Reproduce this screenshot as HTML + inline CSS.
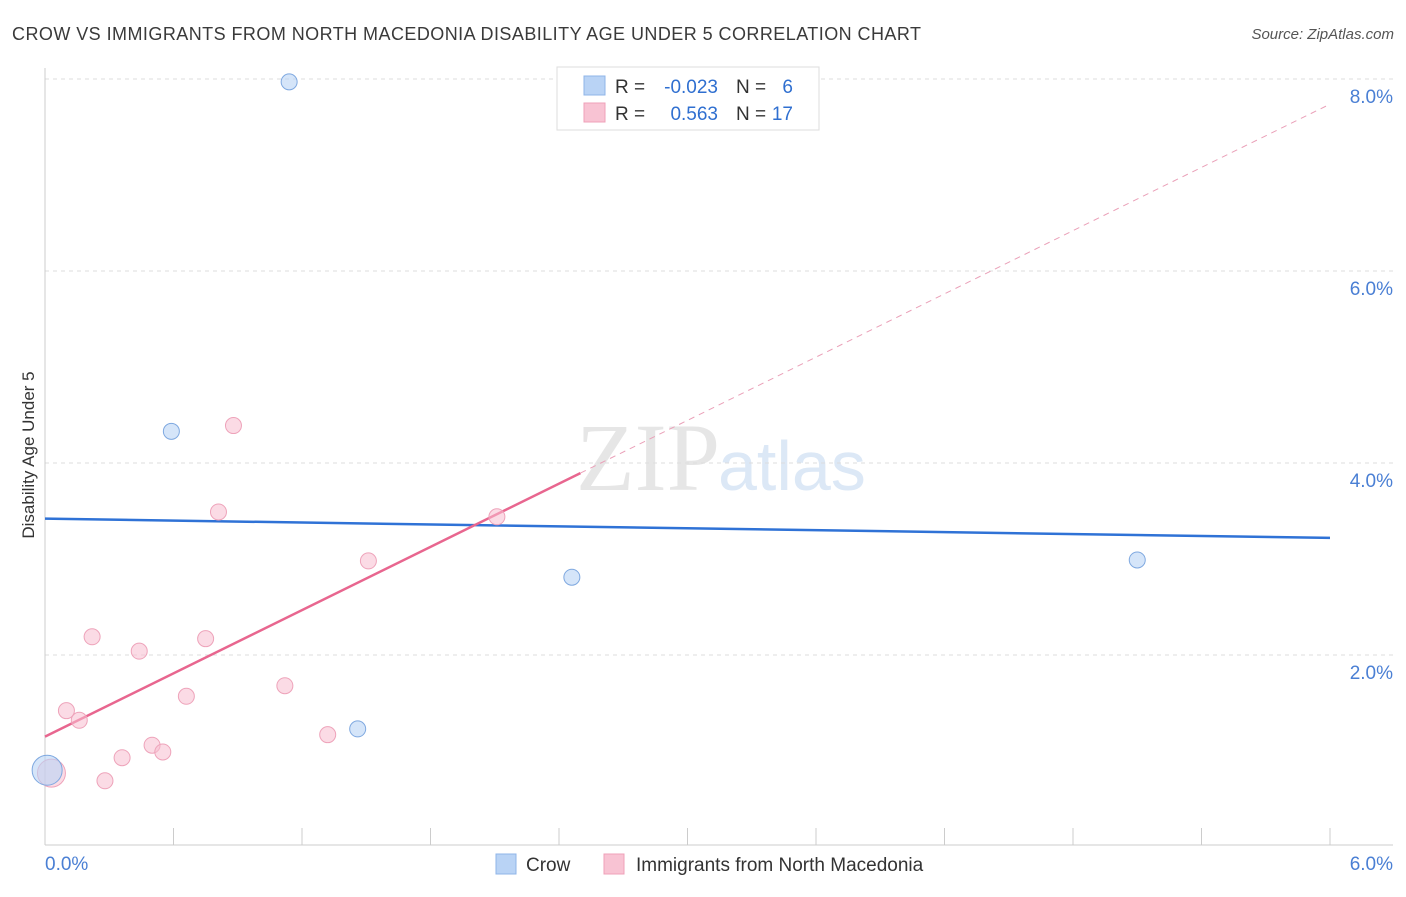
<!DOCTYPE html>
<html><head><meta charset="utf-8"><style>
body{margin:0;background:#fff;font-family:"Liberation Sans",sans-serif;}
</style></head><body>
<svg width="1406" height="892" id="chart">
<text x="12" y="40" font-size="18" fill="#3a3a3a" textLength="909">CROW VS IMMIGRANTS FROM NORTH MACEDONIA DISABILITY AGE UNDER 5 CORRELATION CHART</text>
<text x="1394" y="39" font-size="15" fill="#555" font-style="italic" text-anchor="end">Source: ZipAtlas.com</text>
<text x="0" y="0" transform="translate(34,455) rotate(-90)" font-size="17" fill="#333" text-anchor="middle">Disability Age Under 5</text>
<text x="720" y="490" font-size="96" fill="#e6e6e6" font-family="Liberation Serif" text-anchor="end">ZIP</text>
<text x="718" y="490" font-size="70" fill="#dce8f6">atlas</text>
<g id="grid"></g><g id="lines"></g><g id="pts"></g>
<g>
<rect x="557" y="67" width="262" height="63" fill="#fff" stroke="#ddd"/>
<rect x="584" y="76" width="21" height="19" fill="#b9d3f5" stroke="#8fb5e8"/>
<rect x="584" y="103" width="21" height="19" fill="#f8c3d3" stroke="#efa0b8"/>
<text x="615" y="93" font-size="19" fill="#333">R =</text>
<text x="718" y="93" font-size="19" fill="#2f6fd0" text-anchor="end">-0.023</text>
<text x="736" y="93" font-size="19" fill="#333">N =</text>
<text x="793" y="93" font-size="19" fill="#2f6fd0" text-anchor="end">6</text>
<text x="615" y="120" font-size="19" fill="#333">R =</text>
<text x="718" y="120" font-size="19" fill="#2f6fd0" text-anchor="end">0.563</text>
<text x="736" y="120" font-size="19" fill="#333">N =</text>
<text x="793" y="120" font-size="19" fill="#2f6fd0" text-anchor="end">17</text>
</g>
<g>
<rect x="496" y="854" width="20" height="20" fill="#b9d3f5" stroke="#8fb5e8"/>
<text x="526" y="871" font-size="19" fill="#333">Crow</text>
<rect x="604" y="854" width="20" height="20" fill="#f8c3d3" stroke="#efa0b8"/>
<text x="636" y="871" font-size="19" fill="#333">Immigrants from North Macedonia</text>
</g>
</svg>
<script>
const yTicks=[2,4,6,8];
const xTickLabels=["0.0%","6.0%"];
const crowX=[1.14,0.59,2.46,5.10,1.46,0.01];
const crowY=[7.97,4.33,2.81,2.99,1.23,0.80];
const crowR=[8,8,8,8,8,15];
const macX=[0.03,0.10,0.16,0.22,0.28,0.36,0.44,0.50,0.55,0.66,0.75,0.81,0.88,1.12,1.32,1.51,2.11];
const macY=[0.77,1.42,1.32,2.19,0.69,0.93,2.04,1.06,0.99,1.57,2.17,3.49,4.39,1.68,1.17,2.98,3.44];
const crowFit=[3.42,3.22];
const macFit=[1.15,1.098];
const NS="http://www.w3.org/2000/svg";
const sx=v=>45+v*(1285/6), sy=v=>847-v*96;
function mk(tag,attrs,parent){const e=document.createElementNS(NS,tag);for(const k in attrs)e.setAttribute(k,attrs[k]);document.getElementById(parent).appendChild(e);return e;}
yTicks.forEach(t=>{
 const l=mk('line',{x1:45,x2:1393,y1:sy(t),y2:sy(t),stroke:'#ddd','stroke-dasharray':'4,4'},'grid');
 
 
 const tx=mk('text',{x:1393,y:sy(t)+24,'font-size':19,fill:'#4a7fd4','text-anchor':'end'},'grid');
 tx.textContent=t.toFixed(1)+'%';
 
 
});
const ax=mk('line',{x1:45,x2:1393,y1:845,y2:845,stroke:'#ccc'},'grid');


const ay=mk('line',{x1:45,x2:45,y1:68,y2:845,stroke:'#ccc'},'grid');


for(let i=0;i<=10;i++){const l=mk('line',{x1:sx(i*0.6),x2:sx(i*0.6),y1:828,y2:845,stroke:'#ccc'},'grid');
 
 }
[[0,'start',45],[6,'end',1393]].forEach((d,i)=>{const t=mk('text',{x:d[2],y:870,'font-size':19,fill:'#4a7fd4','text-anchor':d[1]},'grid');t.textContent=xTickLabels[i];
 
 });
const cl=mk('line',{x1:sx(0),y1:sy(crowFit[0]),x2:sx(6),y2:sy(crowFit[1]),stroke:'#2f72d6','stroke-width':2.5},'lines');


const ml=mk('line',{x1:sx(0),y1:sy(macFit[0]),x2:sx(2.5),y2:sy(macFit[0]+2.5*macFit[1]),stroke:'#e8668f','stroke-width':2.5},'lines');


const md=mk('line',{x1:sx(2.5),y1:sy(macFit[0]+2.5*macFit[1]),x2:sx(6),y2:sy(macFit[0]+6*macFit[1]),stroke:'#eaa0b8','stroke-width':1,'stroke-dasharray':'6,5'},'lines');


macX.forEach((x,i)=>{const c=mk('circle',{cx:sx(x),cy:sy(macY[i]),r:i==0?14:8,fill:'rgba(248,190,208,0.55)',stroke:'#eea3ba'},'pts');
 
 });
crowX.forEach((x,i)=>{const c=mk('circle',{cx:sx(x),cy:sy(crowY[i]),r:crowR[i],fill:'rgba(185,211,245,0.6)',stroke:'#7ea8e0'},'pts');
 
 });
</script>
</body></html>
